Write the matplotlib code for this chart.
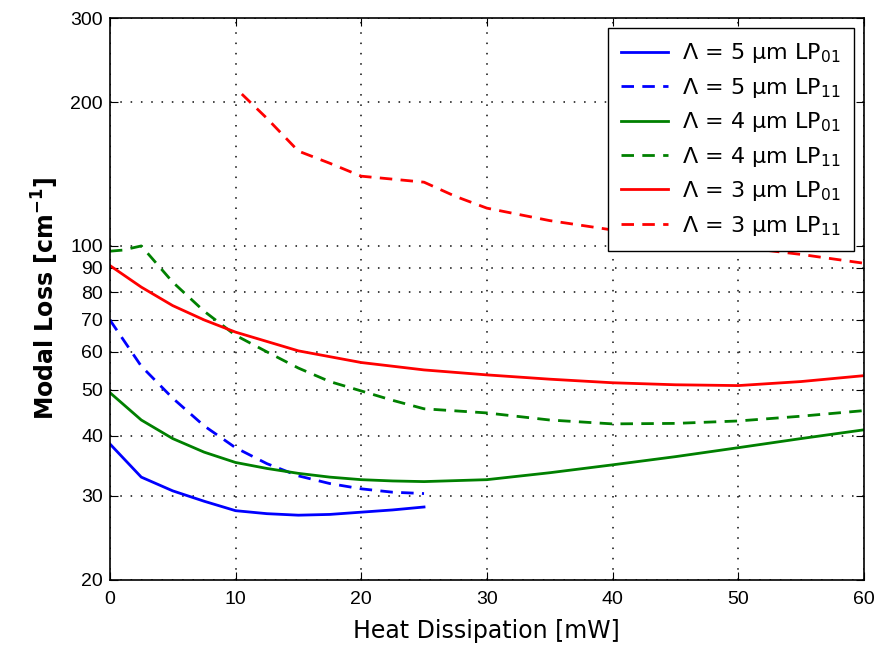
import numpy as np
import matplotlib.pyplot as plt
from matplotlib.ticker import FixedLocator, FixedFormatter, NullLocator

plt.rcParams['font.family'] = ['Liberation Sans', 'DejaVu Sans']
plt.rcParams['mathtext.fontset'] = 'dejavusans'

# Lambda = 5 um
x5_01 = [0, 2.5, 5, 7.5, 10, 12.5, 15, 17.5, 20, 22.5, 25]
y5_01 = [38.5, 32.8, 30.7, 29.2, 27.9, 27.5, 27.3, 27.4, 27.7, 28.0, 28.4]
x5_11 = [0, 2.5, 5, 7.5, 10, 12.5, 15, 17.5, 20, 22.5, 25]
y5_11 = [70, 56, 48, 42, 37.8, 35, 33, 31.8, 31, 30.5, 30.3]

# Lambda = 4 um
x4_01 = [0, 2.5, 5, 7.5, 10, 12.5, 15, 17.5, 20, 22.5, 25, 30, 35, 40, 45, 50, 55, 60]
y4_01 = [49.3, 43.2, 39.5, 37, 35.2, 34.2, 33.4, 32.8, 32.4, 32.2, 32.1, 32.4,
         33.5, 34.8, 36.2, 37.8, 39.5, 41.2]
x4_11 = [0, 1, 2.5, 5, 7.5, 10, 12.5, 15, 17.5, 20, 22.5, 25, 30, 35, 40, 45, 50, 55, 60]
y4_11 = [97.5, 98, 100, 84, 73, 65, 60, 55.5, 52, 49.7, 47.5, 45.6, 44.7, 43.2,
         42.4, 42.5, 43, 44, 45.2]

# Lambda = 3 um
x3_01 = [0, 2.5, 5, 7.5, 10, 15, 20, 25, 30, 35, 40, 45, 50, 55, 60]
y3_01 = [91, 82, 75, 70, 66, 60.3, 57, 55, 53.7, 52.6, 51.7, 51.2, 51, 52, 53.5]
x3_11 = [10.5, 12.5, 15, 17.5, 20, 22.5, 25, 27.5, 30, 35, 40, 45, 50, 55, 60]
y3_11 = [208, 185, 158, 149, 140, 138, 136, 127, 120, 113, 108, 104, 99.5, 96, 92]

yticks = [20, 30, 40, 50, 60, 70, 80, 90, 100, 200, 300]
xticks = [0, 10, 20, 30, 40, 50, 60]

fig = plt.figure(figsize=(8.86, 6.47), dpi=100)
ax = fig.add_axes([0.124, 0.104, 0.851, 0.868])

dash = (0, (4.5, 3))
lw = 2
ax.plot(x5_01, y5_01, color='#0000ff', lw=lw, label=r'$\Lambda$ = 5 µm LP$_{01}$')
ax.plot(x5_11, y5_11, color='#0000ff', lw=lw, ls=dash, label=r'$\Lambda$ = 5 µm LP$_{11}$')
ax.plot(x4_01, y4_01, color='#008000', lw=lw, label=r'$\Lambda$ = 4 µm LP$_{01}$')
ax.plot(x4_11, y4_11, color='#008000', lw=lw, ls=dash, label=r'$\Lambda$ = 4 µm LP$_{11}$')
ax.plot(x3_01, y3_01, color='#ff0000', lw=lw, label=r'$\Lambda$ = 3 µm LP$_{01}$')
ax.plot(x3_11, y3_11, color='#ff0000', lw=lw, ls=dash, label=r'$\Lambda$ = 3 µm LP$_{11}$')

ax.set_yscale('log')
ax.set_xlim(0, 60)
ax.set_ylim(20, 300)
ax.yaxis.set_major_locator(FixedLocator(yticks))
ax.yaxis.set_major_formatter(FixedFormatter([str(t) for t in yticks]))
ax.yaxis.set_minor_locator(NullLocator())
ax.set_xticks(xticks)
ax.tick_params(direction='in', top=True, right=True, labelsize=14, length=6)
ax.tick_params(axis='x', pad=8)
ax.tick_params(axis='y', pad=5)

ax.grid(True, which='major', linestyle=(0, (0.8, 4.5)), color='black', lw=1.4, alpha=0.75)
for s in ax.spines.values():
    s.set_linewidth(1.2)

ax.set_xlabel('Heat Dissipation [mW]', fontsize=17, family='DejaVu Sans', labelpad=8)
ax.set_ylabel(r'Modal Loss [cm$^{\mathbf{-1}}$]', fontsize=17, fontweight='bold',
              family='DejaVu Sans')
ax.yaxis.set_label_coords(-0.065, 0.5)

leg = ax.legend(loc='upper right', frameon=True, fancybox=False,
                prop={'family': 'DejaVu Sans', 'size': 16},
                edgecolor='black', framealpha=1, handlelength=2.1,
                handletextpad=0.65, borderaxespad=0.45, labelspacing=0.47,
                borderpad=0.6)
leg.get_frame().set_linewidth(1)

plt.savefig('out.png', dpi=100)
